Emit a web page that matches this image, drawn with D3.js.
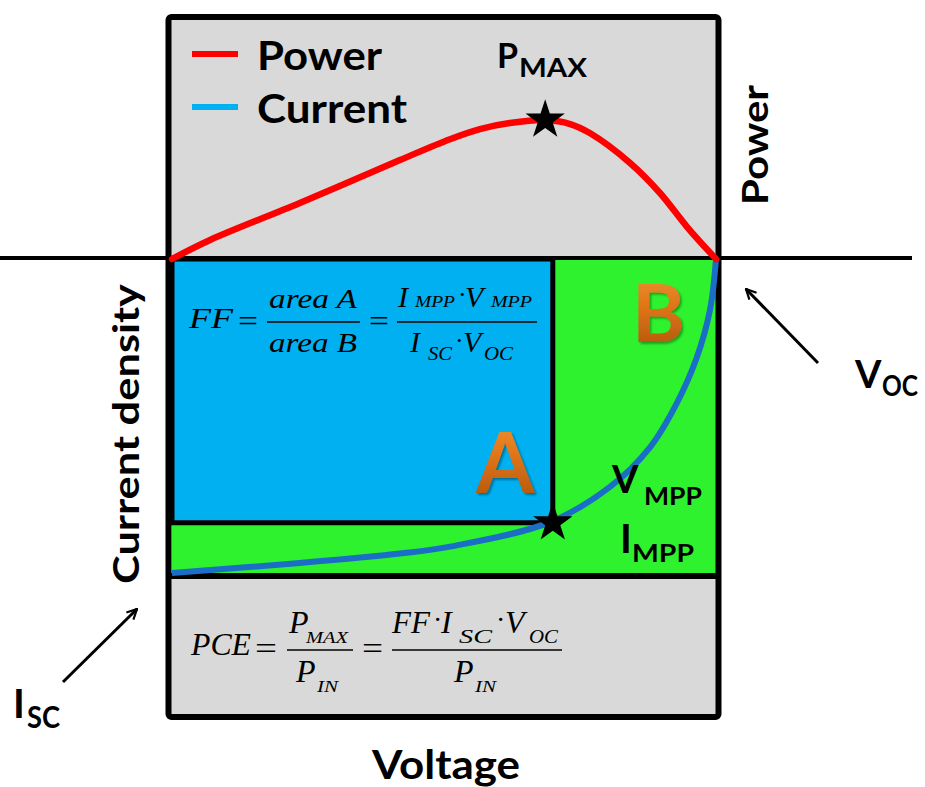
<!DOCTYPE html>
<html>
<head>
<meta charset="utf-8">
<script src="https://cdn.jsdelivr.net/npm/d3@7"></script>
<style>
  body { margin: 0; background: #fff; }
  svg { display: block; font-family: Lato, "Open Sans", sans-serif; }
</style>
</head>
<body>
<svg id="chart" width="925" height="787"></svg>
<script>
// J–V characteristic of a solar cell (normalised: V / Voc, J / Jsc)
const voltage = [0, 0.235, 0.419, 0.511, 0.695, 0.805, 0.879, 0.928, 0.965, 0.989, 1.0];
const currentDensity = [-1.0, -0.968, -0.938, -0.916, -0.838, -0.726, -0.599, -0.459, -0.312, -0.162, 0];

// Output power curve (normalised to P_MAX)
const powerVoltage = [0, 0.070, 0.235, 0.419, 0.511, 0.566, 0.621, 0.686, 0.732, 0.768, 0.842, 0.897, 0.947, 1.0];
const power = [0, 0.137, 0.403, 0.712, 0.862, 0.935, 0.978, 1.0, 0.971, 0.906, 0.691, 0.475, 0.230, 0];

// Maximum power point
const mppVoltage = [0.70];
const mppCurrent = [-0.84];
const pmaxVoltage = [0.686];
const pmaxPower = [1.0];

// Legend entries
const legendLabels = ["Power", "Current"];
const legendColors = ["#ff0000", "#00b0f0"];

const svg = d3.select("#chart");

const x = d3.scaleLinear().domain([0, 1]).range([172, 716]);
const yJ = d3.scaleLinear().domain([-1, 0]).range([573, 259]);
const yP = d3.scaleLinear().domain([0, 1]).range([259, 120]);

// defs: orange letter gradient, shadow, arrow head
const defs = svg.append("defs");
const grad = defs.append("linearGradient").attr("id", "orange")
  .attr("x1", 0).attr("y1", 0).attr("x2", 0).attr("y2", 1);
grad.append("stop").attr("offset", "0%").attr("stop-color", "#ee9a3a");
grad.append("stop").attr("offset", "45%").attr("stop-color", "#e07516");
grad.append("stop").attr("offset", "100%").attr("stop-color", "#a9500c");
const sh = defs.append("filter").attr("id", "shadow").attr("x", "-20%").attr("y", "-20%").attr("width", "140%").attr("height", "140%");
sh.append("feDropShadow").attr("dx", 2).attr("dy", 2).attr("stdDeviation", 1.2).attr("flood-color", "#000").attr("flood-opacity", 0.35);
defs.append("marker").attr("id", "arrow")
  .attr("viewBox", "0 0 12 12").attr("refX", 11).attr("refY", 6)
  .attr("markerWidth", 12).attr("markerHeight", 12).attr("markerUnits", "userSpaceOnUse")
  .attr("orient", "auto")
  .append("path").attr("d", "M1,1 L11,6 L1,11").attr("fill", "none")
  .attr("stroke", "#000").attr("stroke-width", 2.2);

const frameTop = 17, frameBottom = 717, frameLeft = 168.5, frameRight = 718.5;
const zeroY = yJ(0);

// frame background
svg.append("rect")
  .attr("x", frameLeft).attr("y", frameTop)
  .attr("width", frameRight - frameLeft).attr("height", frameBottom - frameTop)
  .attr("fill", "#d9d9d9");

// area B : Isc × Voc
svg.append("rect")
  .attr("x", x(0)).attr("y", zeroY)
  .attr("width", x(1) - x(0)).attr("height", yJ(-1) + 3 - zeroY)
  .attr("fill", "#2ef22e");

// area A : Impp × Vmpp
svg.append("rect")
  .attr("x", x(0)).attr("y", zeroY)
  .attr("width", x(mppVoltage[0]) - x(0)).attr("height", yJ(mppCurrent[0]) - zeroY)
  .attr("fill", "#00b0f0").attr("stroke", "#000").attr("stroke-width", 5);

// bottom edge of area B
svg.append("line")
  .attr("x1", frameLeft).attr("x2", frameRight)
  .attr("y1", yJ(-1) + 3).attr("y2", yJ(-1) + 3)
  .attr("stroke", "#000").attr("stroke-width", 6);

// frame border
svg.append("rect")
  .attr("x", frameLeft).attr("y", frameTop)
  .attr("width", frameRight - frameLeft).attr("height", frameBottom - frameTop)
  .attr("rx", 3)
  .attr("fill", "none").attr("stroke", "#000").attr("stroke-width", 6);

// voltage axis (J = 0, P = 0)
svg.append("line")
  .attr("x1", 0).attr("x2", 912).attr("y1", zeroY - 1).attr("y2", zeroY - 1)
  .attr("stroke", "#000").attr("stroke-width", 4);

// current curve
svg.append("path")
  .datum(voltage.map((v, i) => [v, currentDensity[i]]))
  .attr("fill", "none").attr("stroke", "#1b6ec6").attr("stroke-width", 6)
  .attr("d", d3.line().x(d => x(d[0])).y(d => yJ(d[1])).curve(d3.curveCatmullRom.alpha(0.5)));

// power curve
svg.append("path")
  .datum(powerVoltage.map((v, i) => [v, power[i]]))
  .attr("fill", "none").attr("stroke", "#ff0000").attr("stroke-width", 6.5)
  .attr("stroke-linecap", "round")
  .attr("d", d3.line().x(d => x(d[0])).y(d => yP(d[1])).curve(d3.curveCatmullRom.alpha(0.5)));

// stars at the maximum power point
const star = d3.symbol(d3.symbolStar, 480);
svg.append("path").attr("d", star())
  .attr("transform", `translate(${x(mppVoltage[0])},${yJ(mppCurrent[0])})`)
  .attr("fill", "#000");
svg.append("path").attr("d", star())
  .attr("transform", `translate(${x(pmaxVoltage[0])},${yP(pmaxPower[0])})`)
  .attr("fill", "#000");

// helper for plain labels
function label(tx, ty, s, size, opts = {}) {
  const t = svg.append("text").attr("x", tx).attr("y", ty)
    .attr("font-size", size)
    .attr("font-weight", opts.weight || 700)
    .attr("font-family", opts.family || null)
    .attr("font-style", opts.style || null)
    .attr("text-anchor", opts.anchor || "start")
    .attr("fill", opts.fill || "#000")
    .text(s);
  if (opts.len) t.attr("textLength", opts.len).attr("lengthAdjust", "spacingAndGlyphs");
  return t;
}

// legend
const legendLen = [125, 150];
legendLabels.forEach((lab, i) => {
  const ly = 54 + i * 53;
  svg.append("line").attr("x1", 192).attr("x2", 238).attr("y1", ly).attr("y2", ly)
    .attr("stroke", legendColors[i]).attr("stroke-width", 6);
  label(257, ly + 16, lab, 40, { len: legendLen[i] });
});

// P_MAX
label(497, 68, "P", 34);
label(519, 77, "MAX", 26, { len: 68 });

// V_MPP / I_MPP
label(612, 493, "V", 38);
label(644, 505, "MPP", 25, { len: 58 });
label(620, 553, "I", 40);
label(632, 562, "MPP", 25, { len: 62 });

// V_OC
label(855, 388, "V", 38);
label(882, 396, "OC", 29, { len: 36 });
// I_SC
label(13, 718, "I", 40);
label(27, 728, "SC", 30, { len: 33 });

// area letters
label(476, 493, "A", 84, { fill: "url(#orange)" }).attr("filter", "url(#shadow)");
label(632, 342, "B", 80, { fill: "url(#orange)" }).attr("filter", "url(#shadow)");

// axis titles
label(446, 779, "Voltage", 41, { anchor: "middle", len: 148 });
label(0, 0, "Current density", 37, { anchor: "middle", len: 300 })
  .attr("transform", "translate(139,434) rotate(-90)");
label(0, 0, "Power", 36, { anchor: "middle", len: 120 })
  .attr("transform", "translate(768,145) rotate(-90)");

// arrows to Voc and Isc
svg.append("line").attr("x1", 818).attr("y1", 363).attr("x2", 746).attr("y2", 289)
  .attr("stroke", "#000").attr("stroke-width", 3).attr("marker-end", "url(#arrow)");
svg.append("line").attr("x1", 63).attr("y1", 682).attr("x2", 137).attr("y2", 609)
  .attr("stroke", "#000").attr("stroke-width", 3).attr("marker-end", "url(#arrow)");

// formulas
const serif = "'Liberation Serif', 'DejaVu Serif', serif";
function m(tx, ty, s, size, len, anchor) {
  return label(tx, ty, s, size, { weight: 400, family: serif, style: "italic", len: len, anchor: anchor });
}
function up(tx, ty, s, size, len) {
  return label(tx, ty, s, size, { weight: 400, family: serif, len: len });
}
function bar(x1, x2, yy) {
  svg.append("line").attr("x1", x1).attr("x2", x2).attr("y1", yy).attr("y2", yy)
    .attr("stroke", "#000").attr("stroke-width", 1.6);
}

// FF = area A / area B = Impp·Vmpp / Isc·Voc
m(189, 328, "FF", 30, 44);
up(238, 331, "=", 30, 20);
bar(267, 360, 322);
m(313, 308, "area A", 28, 88, "middle");
m(313, 352, "area B", 28, 88, "middle");
up(369, 331, "=", 30, 20);
bar(397, 537, 322);
m(398, 307, "I", 30);
m(415, 307, "MPP", 16, 40);
up(458, 303, "·", 26);
m(465, 307, "V", 30);
m(491, 307, "MPP", 16, 41);
m(410, 352, "I", 30);
m(428, 360, "SC", 18, 24);
up(455, 349, "·", 26);
m(463, 352, "V", 30);
m(484, 360, "OC", 18, 29);

// PCE = Pmax / Pin = FF·Isc·Voc / Pin
m(191, 655, "PCE", 32, 60);
up(255, 659, "=", 32, 22);
bar(287, 353, 650);
m(289, 633, "P", 32);
m(306, 643, "MAX", 16, 42);
m(296, 682, "P", 32);
m(317, 692, "IN", 16, 21);
up(362, 659, "=", 32, 21);
bar(392, 562, 650);
m(392, 633, "FF", 32, 38);
up(433, 629, "·", 28);
m(441, 633, "I", 32);
m(459, 643, "SC", 18, 33);
up(496, 629, "·", 28);
m(505, 633, "V", 32);
m(529, 643, "OC", 18, 29);
m(454, 682, "P", 32);
m(475, 692, "IN", 16, 21);
</script>
</body>
</html>
